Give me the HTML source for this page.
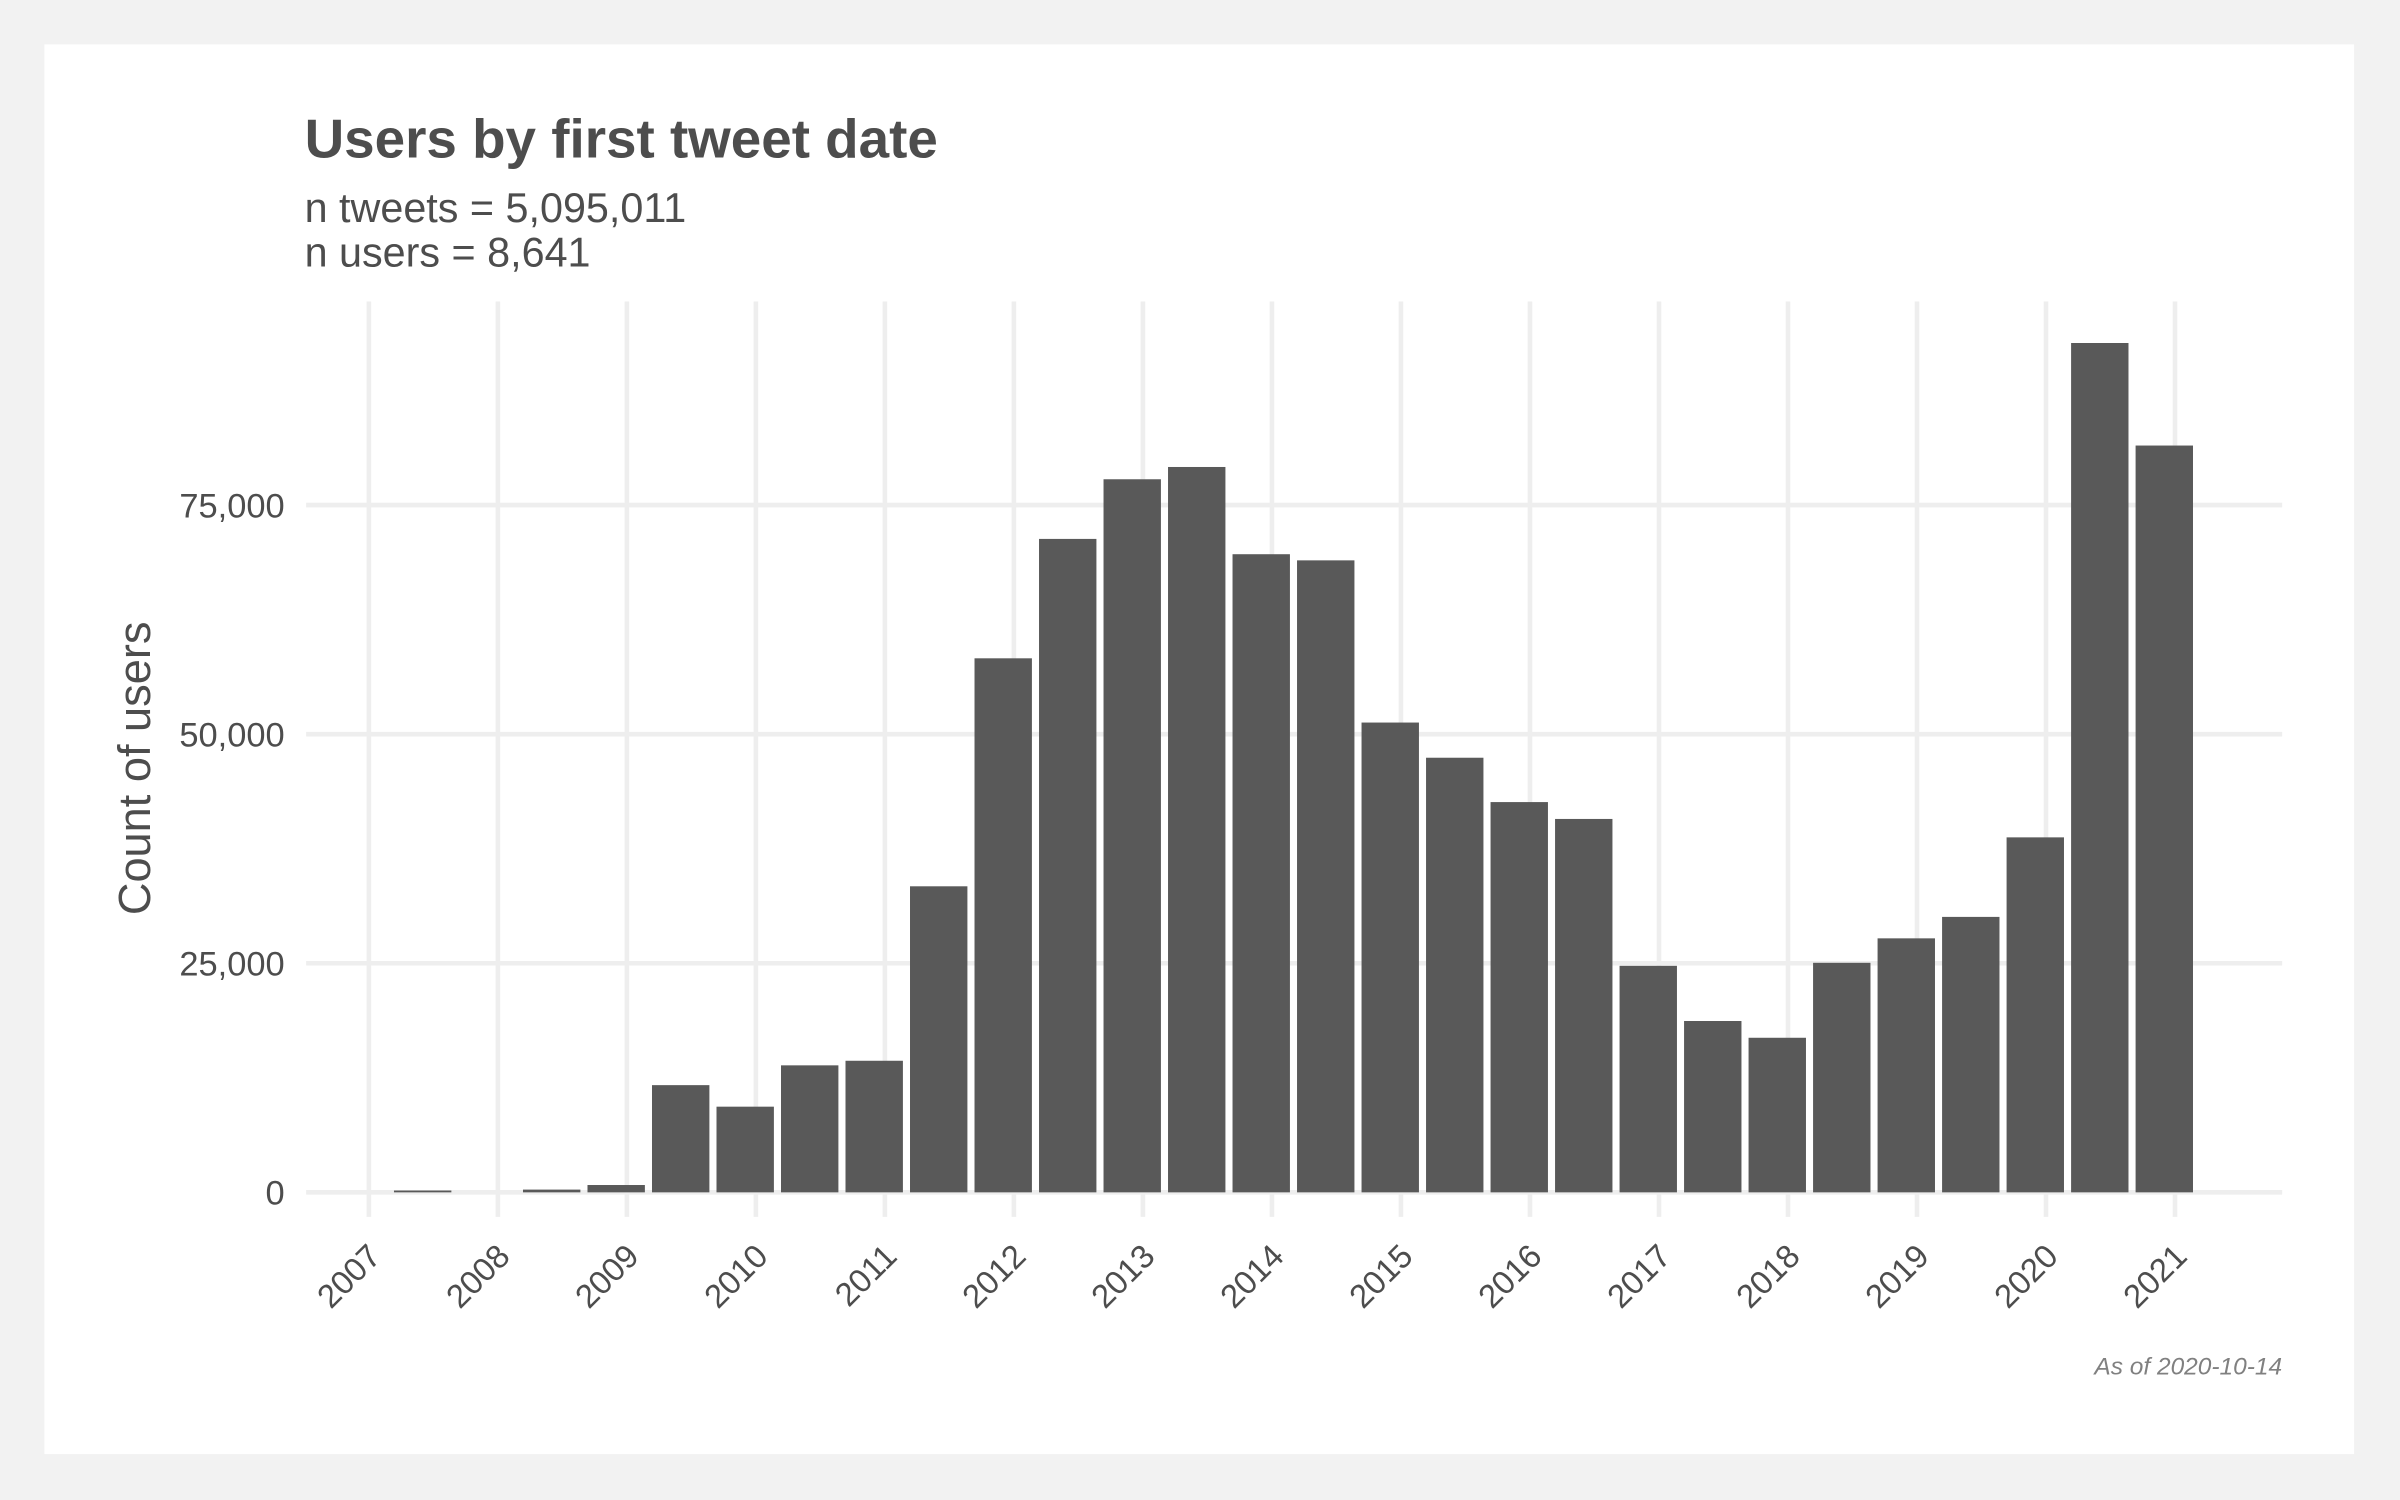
<!DOCTYPE html>
<html><head><meta charset="utf-8"><style>
html,body{margin:0;padding:0;background:#f2f2f2;}
svg{display:block;font-family:"Liberation Sans",sans-serif;}
</style></head><body>
<svg id="chart" width="2400" height="1500" viewBox="0 0 1568 980" xmlns="http://www.w3.org/2000/svg">
<rect x="0" y="0" width="1568" height="980" fill="#f2f2f2"/>
<rect x="29" y="29" width="1509" height="921" fill="#ffffff"/>
<text x="199" y="103" font-size="35.8" font-weight="bold" fill="#4d4d4d">Users by first tweet date</text>
<text x="199" y="145" font-size="27" fill="#4d4d4d">n tweets = 5,095,011</text>
<text x="199" y="174" font-size="27" fill="#4d4d4d">n users = 8,641</text>
<text transform="translate(98,502) rotate(-90)" text-anchor="middle" font-size="29.5" fill="#4d4d4d">Count of users</text>
<text x="1491" y="898" text-anchor="end" font-size="16" font-style="italic" fill="#808080">As of 2020-10-14</text>
<g id="grid"></g><g id="bars"></g><g id="axes"></g>
</svg>
<script>
const binStarts = [2007.0,2007.5,2008.0,2008.5,2009.0,2009.5,2010.0,2010.5,2011.0,2011.5,2012.0,2012.5,2013.0,2013.5,2014.0,2014.5,2015.0,2015.5,2016.0,2016.5,2017.0,2017.5,2018.0,2018.5,2019.0,2019.5,2020.0,2020.5];
const userCounts = [200,0,300,800,11700,9350,13860,14360,33400,58280,71310,77820,79160,69640,68970,51270,47430,42590,40750,24720,18700,16870,25050,27720,30060,38740,92690,81500];
const yearTicks = [2007,2008,2009,2010,2011,2012,2013,2014,2015,2016,2017,2018,2019,2020,2021];
const yTicks = [0,25000,50000,75000];
const yTickLabels = ["0","25,000","50,000","75,000"];
const NS="http://www.w3.org/2000/svg";
const x = v => 241 + (v-2007)*(1421-241)/14;
const y = v => 779 - v*(779-330)/75000;
function mk(tag, attrs, parent){const e=document.createElementNS(NS,tag);for(const k in attrs)e.setAttribute(k,attrs[k]);parent.appendChild(e);return e;}
const grid=document.getElementById('grid'), bars=document.getElementById('bars'), axes=document.getElementById('axes');
yTicks.forEach((t,i)=>{
  const l=mk('line',{x1:200,x2:1491,y1:y(t),y2:y(t),stroke:'#eeeeee','stroke-width':3},grid);
  
  
  const tx=mk('text',{x:186,y:y(t)+8,'text-anchor':'end','font-size':22.5,fill:'#4d4d4d'},axes);
  tx.textContent=yTickLabels[i];
  
  
});
yearTicks.forEach(yr=>{
  const l=mk('line',{x1:x(yr),x2:x(yr),y1:197,y2:795,stroke:'#eeeeee','stroke-width':3},grid);
  
  
  const tx=mk('text',{transform:`translate(${x(yr)+9},${822}) rotate(-45)`,'text-anchor':'end','font-size':21.5,fill:'#4d4d4d'},axes);
  tx.textContent=yr;
  
  
});
binStarts.forEach((s,i)=>{
  const c=s+0.417;
  const w=37.5;
  const top=y(userCounts[i]);
  const r=mk('rect',{x:x(c)-w/2,y:top,width:w,height:Math.max(0,779-top),fill:'#595959'},bars);
  
  
});
</script>
</body></html>
